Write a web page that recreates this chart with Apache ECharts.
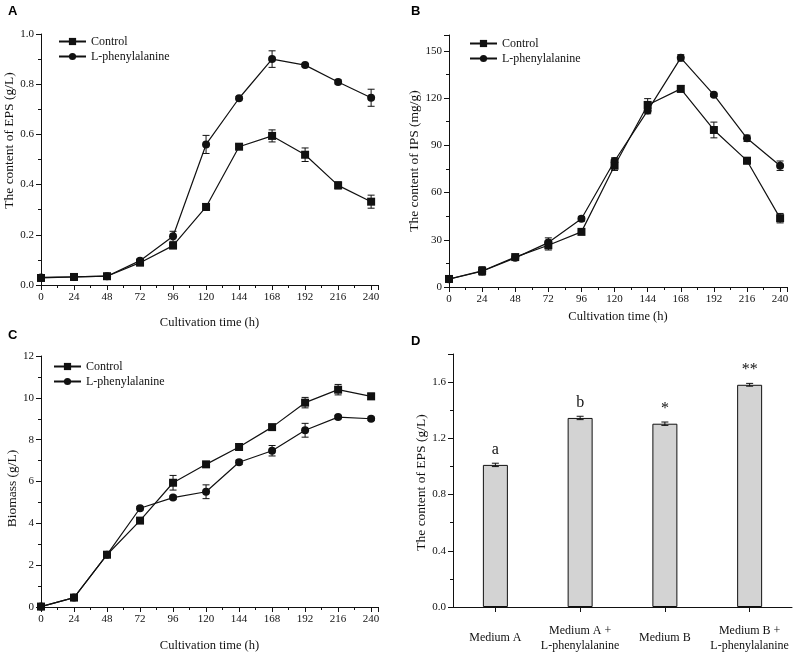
<!DOCTYPE html>
<html><head><meta charset="utf-8">
<script src="https://cdn.jsdelivr.net/npm/echarts@6/dist/echarts.min.js"></script>
<style>html,body{margin:0;padding:0;background:#fff}#c{width:793px;height:654px}</style>
</head><body><div id="c"></div>
<script>
// ---- data ----
const timeHours = [0, 24, 48, 72, 96, 120, 144, 168, 192, 216, 240];
const seriesNames = ['Control', 'L-phenylalanine'];

const epsControl = [0.028, 0.032, 0.035, 0.089, 0.157, 0.311, 0.551, 0.594, 0.519, 0.397, 0.332];
const epsControlErr = [0.004, 0.003, 0.003, 0.005, 0.010, 0.013, 0.008, 0.024, 0.027, 0.014, 0.026];
const epsPhe = [0.030, 0.032, 0.035, 0.097, 0.194, 0.560, 0.744, 0.900, 0.876, 0.809, 0.746];
const epsPheErr = [0.004, 0.003, 0.003, 0.005, 0.020, 0.036, 0.006, 0.033, 0.006, 0.008, 0.034];

const ipsControl = [5.1, 10.2, 19.0, 26.5, 35.0, 77.0, 115.6, 125.8, 99.7, 80.2, 43.7];
const ipsControlErr = [0.8, 2.7, 1.2, 3.0, 1.0, 3.0, 4.0, 2.0, 5.0, 2.0, 3.0];
const ipsPhe = [5.0, 10.0, 18.5, 28.2, 43.3, 80.0, 112.0, 145.5, 122.0, 94.4, 77.0];
const ipsPheErr = [0.8, 1.0, 1.0, 3.0, 1.5, 2.0, 2.0, 2.0, 1.0, 2.0, 3.0];

const bioControl = [0.02, 0.45, 2.50, 4.13, 5.94, 6.82, 7.65, 8.60, 9.77, 10.39, 10.07];
const bioControlErr = [0.02, 0.05, 0.08, 0.10, 0.35, 0.10, 0.15, 0.10, 0.25, 0.25, 0.15];
const bioPhe = [0.02, 0.45, 2.50, 4.72, 5.23, 5.51, 6.92, 7.47, 8.45, 9.08, 9.00];
const bioPheErr = [0.02, 0.05, 0.08, 0.08, 0.08, 0.33, 0.10, 0.25, 0.33, 0.08, 0.08];

const mediumLabels = ['Medium A', 'Medium A +\nL-phenylalanine', 'Medium B', 'Medium B +\nL-phenylalanine'];
const mediumEps = [1.011, 1.345, 1.304, 1.581];
const mediumEpsErr = [0.012, 0.012, 0.012, 0.010];
const sigLabels = ['a', 'b', '*', '**'];

// ---- helpers ----
const SERIF = '"Liberation Serif", "Times New Roman", serif';
const INK = '#111';

function pairs(xs, ys) { return xs.map((x, i) => [x, ys[i]]); }
function errData(xs, ys, es) { return xs.map((x, i) => [x, ys[i] - es[i], ys[i] + es[i]]); }

function errRender(params, api) {
  const x = api.value(0);
  const lo = api.coord([x, api.value(1)]);
  const hi = api.coord([x, api.value(2)]);
  const w = 3.5;
  const st = { stroke: INK, lineWidth: 1 };
  return {
    type: 'group',
    children: [
      { type: 'line', shape: { x1: lo[0], y1: lo[1], x2: hi[0], y2: hi[1] }, style: st },
      { type: 'line', shape: { x1: lo[0] - w, y1: lo[1], x2: lo[0] + w, y2: lo[1] }, style: st },
      { type: 'line', shape: { x1: hi[0] - w, y1: hi[1], x2: hi[0] + w, y2: hi[1] }, style: st }
    ]
  };
}

function valueXAxis(gi, nameGap) {
  return {
    type: 'value', gridIndex: gi, min: 0, max: 245, interval: 24,
    name: 'Cultivation time (h)', nameLocation: 'middle', nameGap: nameGap,
    nameTextStyle: { fontFamily: SERIF, fontSize: 12.5, color: INK },
    axisLine: { show: true, lineStyle: { color: INK, width: 1 } },
    axisTick: { show: true, inside: false, length: 5, lineStyle: { color: INK } },
    minorTick: { show: true, splitNumber: 2, length: 3, lineStyle: { color: INK } },
    axisLabel: { fontFamily: SERIF, fontSize: 11, color: INK, margin: 7, showMaxLabel: false },
    splitLine: { show: false }
  };
}
function valueYAxis(gi, max, interval, showMax, name, nameGap, shift, fmt) {
  return {
    type: 'value', gridIndex: gi, min: 0, max: max, interval: interval,
    name: name, nameLocation: 'middle', nameGap: nameGap,
    nameTextStyle: {
      fontFamily: SERIF, fontSize: 13.5, color: INK,
      padding: shift >= 0 ? [0, 0, 0, shift * 2] : [0, -shift * 2, 0, 0]
    },
    axisLine: { show: true, lineStyle: { color: INK, width: 1 } },
    axisTick: { show: true, inside: false, length: 5, lineStyle: { color: INK } },
    minorTick: { show: true, splitNumber: 2, length: 3, lineStyle: { color: INK } },
    axisLabel: {
      fontFamily: SERIF, fontSize: 11, color: INK, margin: 7, showMaxLabel: showMax,
      formatter: fmt
    },
    splitLine: { show: false }
  };
}
function lineSeries(gi, name, ys, symbol) {
  return {
    type: 'line', name: name, xAxisIndex: gi, yAxisIndex: gi,
    data: pairs(timeHours, ys), symbol: symbol, symbolSize: 8,
    lineStyle: { color: INK, width: 1.2 }, itemStyle: { color: INK },
    z: 3, animation: false
  };
}
function errSeries(gi, ys, es) {
  return {
    type: 'custom', xAxisIndex: gi, yAxisIndex: gi,
    data: errData(timeHours, ys, es), renderItem: errRender,
    encode: { x: 0, y: [1, 2] }, z: 2, animation: false, silent: true
  };
}
function legendAt(left, top) {
  return {
    data: seriesNames, orient: 'vertical', left: left, top: top, padding: 0,
    itemWidth: 27, itemHeight: 9, itemGap: 2,
    textStyle: { fontFamily: SERIF, fontSize: 12, color: INK, lineHeight: 13 },
    selectedMode: false
  };
}

const fmt1 = v => v.toFixed(1);
const fmt0 = v => String(Math.round(v));
const letterStyle = { fontFamily: '"Liberation Sans", Arial, sans-serif', fontWeight: 'bold', fontSize: 13, color: '#000' };

const option = {
  backgroundColor: '#fff',
  animation: false,
  title: [
    { text: 'A', left: 3, top: 0, textStyle: letterStyle },
    { text: 'B', left: 406, top: 0, textStyle: letterStyle },
    { text: 'C', left: 3, top: 324, textStyle: letterStyle },
    { text: 'D', left: 406, top: 330, textStyle: letterStyle }
  ],
  legend: [legendAt(58, 35), legendAt(469, 37), legendAt(53, 360)],
  grid: [
    { left: 41, top: 34, width: 337, height: 251 },
    { left: 449, top: 35, width: 338, height: 252 },
    { left: 41, top: 356, width: 337, height: 251 },
    { left: 453, top: 354, width: 339, height: 253 }
  ],
  xAxis: [
    valueXAxis(0, 31),
    valueXAxis(1, 23),
    valueXAxis(2, 32),
    {
      type: 'category', gridIndex: 3, data: mediumLabels,
      axisLine: { show: true, lineStyle: { color: INK, width: 1 } },
      axisTick: { show: true, alignWithLabel: true, length: 5, lineStyle: { color: INK } },
      axisLabel: { fontFamily: SERIF, fontSize: 12, color: INK, margin: 31, verticalAlign: 'middle', lineHeight: 15, interval: 0 },
      splitLine: { show: false }
    }
  ],
  yAxis: [
    valueYAxis(0, 1.0, 0.2, true, 'The content of EPS (g/L)', 23, 19, fmt1),
    valueYAxis(1, 160, 30, false, 'The content of IPS (mg/g)', 28, 0, fmt0),
    valueYAxis(2, 12, 2, true, 'Biomass (g/L)', 20, -7, fmt0),
    valueYAxis(3, 1.8, 0.4, false, 'The content of EPS (g/L)', 24, -2, fmt1)
  ],
  series: [
    errSeries(0, epsControl, epsControlErr),
    errSeries(0, epsPhe, epsPheErr),
    lineSeries(0, seriesNames[0], epsControl, 'rect'),
    lineSeries(0, seriesNames[1], epsPhe, 'circle'),

    errSeries(1, ipsControl, ipsControlErr),
    errSeries(1, ipsPhe, ipsPheErr),
    lineSeries(1, seriesNames[0], ipsControl, 'rect'),
    lineSeries(1, seriesNames[1], ipsPhe, 'circle'),

    errSeries(2, bioControl, bioControlErr),
    errSeries(2, bioPhe, bioPheErr),
    lineSeries(2, seriesNames[0], bioControl, 'rect'),
    lineSeries(2, seriesNames[1], bioPhe, 'circle'),

    {
      type: 'bar', xAxisIndex: 3, yAxisIndex: 3, data: mediumEps, barWidth: 25,
      itemStyle: { color: '#d3d3d3', borderColor: INK, borderWidth: 1 },
      label: {
        show: true, position: 'top', distance: 7,
        formatter: p => sigLabels[p.dataIndex],
        fontFamily: SERIF, fontSize: 16, color: INK
      },
      z: 2
    },
    {
      type: 'custom', xAxisIndex: 3, yAxisIndex: 3,
      data: mediumEps.map((v, i) => [i, v - mediumEpsErr[i], v + mediumEpsErr[i]]),
      renderItem: errRender, encode: { x: 0, y: [1, 2] }, z: 3, silent: true
    }
  ]
};

const chart = echarts.init(document.getElementById('c'), null, { renderer: 'canvas' });
chart.setOption(option);
</script>
</body></html>
